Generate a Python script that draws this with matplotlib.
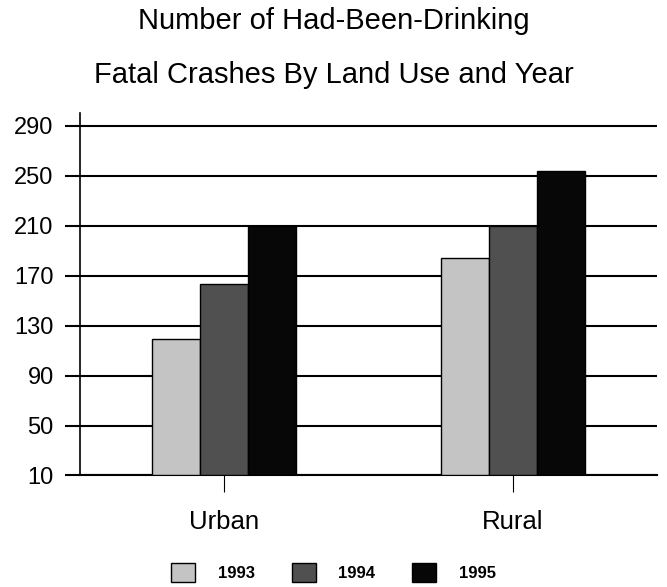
import numpy as np
import matplotlib
matplotlib.use("Agg")
import matplotlib.pyplot as plt

plt.rcParams['font.family'] = ['Liberation Sans', 'DejaVu Sans']

# data
land_use = ['Urban', 'Rural']
years = ['1993', '1994', '1995']
crashes_1993 = [119, 184]
crashes_1994 = [163, 210]
crashes_1995 = [210, 254]
y_ticks = [10, 50, 90, 130, 170, 210, 250, 290]

colors = ['#c4c4c4', '#505050', '#070707']

fig = plt.figure(figsize=(6.67, 5.87), dpi=100)
ax = fig.add_axes([0.12, 0.19, 0.865, 0.617])

x = np.arange(len(land_use))
w = 1 / 6
series = [crashes_1993, crashes_1994, crashes_1995]
for i, vals in enumerate(series):
    ax.bar(x + (i - 1) * w, np.array(vals) - 10, w, bottom=10, color=colors[i],
           edgecolor='black', linewidth=1.0, label=years[i], zorder=3)

ax.set_xlim(-0.5, 1.5)
ax.set_ylim(10, 300)
ax.set_yticks(y_ticks)
ax.set_xticks(x)
ax.set_xticklabels(land_use, fontsize=18.5)
ax.tick_params(axis='y', labelsize=17, length=11, width=1.5, direction='out', pad=8)
ax.tick_params(axis='x', length=12, width=0.8, direction='out', pad=13)
ax.yaxis.grid(True, color='black', linewidth=1.5, zorder=0)

for s in ['top', 'right']:
    ax.spines[s].set_visible(False)
ax.spines['left'].set_linewidth(1.2)
ax.spines['bottom'].set_linewidth(1.5)

# two title lines, spaced apart like the original
fig.text(0.5, 0.950, 'Number of Had-Been-Drinking', ha='center', va='baseline', fontsize=21)
fig.text(0.5, 0.858, 'Fatal Crashes By Land Use and Year', ha='center', va='baseline', fontsize=21)

leg = fig.legend(loc='center', bbox_to_anchor=(0.5, 0.025), ncol=3, frameon=False,
                 prop={'weight': 'bold', 'size': 12}, handlelength=1.45, handleheight=1.4,
                 handletextpad=1.35, columnspacing=2.2)

fig.savefig('out.png', dpi=100)
